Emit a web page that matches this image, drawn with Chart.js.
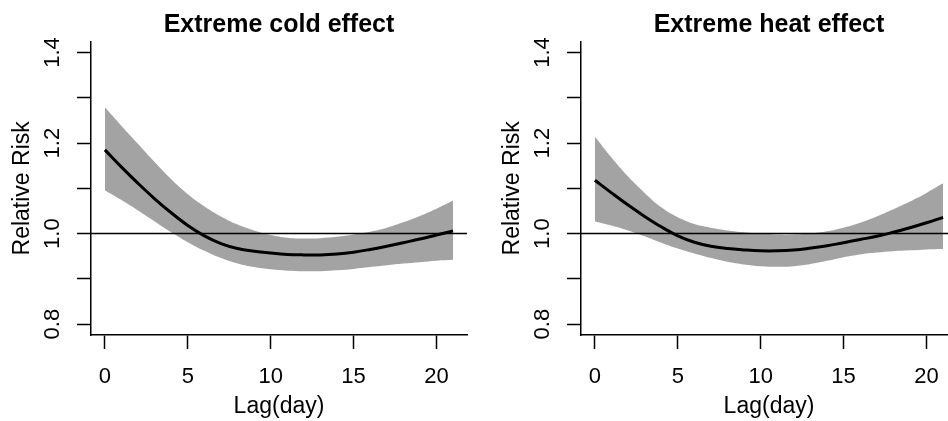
<!DOCTYPE html>
<html>
<head>
<meta charset="utf-8">
<script src="https://cdn.jsdelivr.net/npm/chart.js@4.4.1/dist/chart.umd.min.js"></script>
<style>
  html, body { margin: 0; padding: 0; background: #fff; overflow: hidden; width: 948px; height: 421px; }
  canvas { position: absolute; top: 0; }
  #cold { left: 0; }
  #heat { left: 490px; }
</style>
</head>
<body>
<canvas id="cold" width="474" height="421"></canvas>
<canvas id="heat" width="474" height="421"></canvas>
<script>
// lag days
const lags = [0, 1, 2, 3, 4, 5, 6, 7, 8, 9, 10, 11, 12, 13, 14, 15, 16, 17, 18, 19, 20, 21];

// Extreme cold: relative risk and 95% band
const coldFit   = [1.185, 1.147, 1.111, 1.077, 1.046, 1.018, 0.995, 0.978, 0.967, 0.961, 0.957, 0.954, 0.953, 0.953, 0.955, 0.959, 0.965, 0.972, 0.980, 0.988, 0.997, 1.006];
const coldUpper = [1.279, 1.238, 1.198, 1.158, 1.120, 1.087, 1.060, 1.038, 1.020, 1.007, 0.997, 0.991, 0.989, 0.990, 0.993, 0.998, 1.004, 1.013, 1.025, 1.039, 1.055, 1.073];
const coldLower = [1.096, 1.074, 1.051, 1.027, 1.003, 0.981, 0.962, 0.946, 0.934, 0.926, 0.921, 0.918, 0.917, 0.917, 0.919, 0.922, 0.926, 0.930, 0.934, 0.937, 0.940, 0.942];

// Extreme heat: relative risk and 95% band
const heatFit   = [1.118, 1.090, 1.063, 1.038, 1.015, 0.995, 0.981, 0.972, 0.967, 0.964, 0.962, 0.962, 0.964, 0.968, 0.973, 0.980, 0.987, 0.994, 1.003, 1.013, 1.024, 1.036];
const heatUpper = [1.214, 1.168, 1.126, 1.090, 1.058, 1.036, 1.021, 1.013, 1.007, 1.003, 1.000, 0.998, 0.998, 1.000, 1.005, 1.013, 1.024, 1.038, 1.054, 1.071, 1.090, 1.111];
const heatLower = [1.027, 1.018, 1.007, 0.994, 0.980, 0.967, 0.956, 0.946, 0.938, 0.932, 0.928, 0.927, 0.928, 0.933, 0.940, 0.948, 0.954, 0.958, 0.961, 0.963, 0.965, 0.966];

// axis limits (R style, 4% extension)
const xLimits = [-0.84, 21.84];
const yLimits = [0.776, 1.424];
const refValue = 1.0;

Chart.defaults.font.family = "'Liberation Sans', Arial, Helvetica, sans-serif";
Chart.defaults.color = '#000';

function pts(ys) {
    return lags.map((x, i) => ({ x: x, y: ys[i] }));
}

const axisGrid = {
    display: true,
    drawOnChartArea: false,
    drawTicks: true,
    tickLength: 14,
    tickWidth: 1.5,
    tickColor: '#000',
    color: '#000'
};

function makeChart(id, title, fit, upper, lower) {
    const ctx = document.getElementById(id).getContext('2d');
    return new Chart(ctx, {
        type: 'line',
        data: {
            datasets: [
                { data: pts(fit), borderColor: '#000', borderWidth: 3, pointRadius: 0,
                  tension: 0.4, fill: false, order: 0 },
                { data: [{ x: xLimits[0], y: refValue }, { x: xLimits[1], y: refValue }],
                  borderColor: '#000', borderWidth: 1.5, pointRadius: 0, fill: false, order: 1 },
                { data: pts(upper), borderColor: 'rgba(0,0,0,0)', borderWidth: 0, pointRadius: 0,
                  backgroundColor: '#a3a3a3', tension: 0.4, fill: '+1', order: 2 },
                { data: pts(lower), borderColor: 'rgba(0,0,0,0)', borderWidth: 0, pointRadius: 0,
                  tension: 0.4, fill: false, order: 3 }
            ]
        },
        options: {
            responsive: false,
            animation: false,
            devicePixelRatio: 1,
            layout: { padding: { left: 0, right: 7, top: 0, bottom: 0 } },
            plugins: {
                legend: { display: false },
                tooltip: { enabled: false },
                title: {
                    display: true,
                    text: title,
                    fullSize: false,
                    color: '#000',
                    font: { size: 25, weight: 'bold' },
                    padding: { top: 10, bottom: 1.7 }
                }
            },
            scales: {
                x: {
                    type: 'linear',
                    min: xLimits[0],
                    max: xLimits[1],
                    afterFit: function(scale) { scale.height = 86; },
                    ticks: {
                        stepSize: 5,
                        includeBounds: false,
                        autoSkip: false,
                        minRotation: 0,
                        maxRotation: 0,
                        padding: 15,
                        color: '#000',
                        font: { size: 22 },
                        callback: function(value) { return String(value); }
                    },
                    grid: axisGrid,
                    border: { display: true, color: '#000', width: 1.5 },
                    title: { display: true, text: 'Lag(day)', color: '#000', font: { size: 23 }, padding: { top: 0, bottom: 1 } }
                },
                y: {
                    type: 'linear',
                    min: yLimits[0],
                    max: yLimits[1],
                    afterFit: function(scale) { scale.width = 91; },
                    ticks: {
                        stepSize: 0.1,
                        includeBounds: false,
                        autoSkip: false,
                        minRotation: 90,
                        maxRotation: 90,
                        crossAlign: 'center',
                        padding: 8.5,
                        color: '#000',
                        font: { size: 22 },
                        callback: function(value) {
                            return Math.round(value * 10) % 2 === 0 ? value.toFixed(1) : '';
                        }
                    },
                    grid: axisGrid,
                    border: { display: true, color: '#000', width: 1.5 },
                    title: { display: true, text: 'Relative Risk', color: '#000', font: { size: 23 }, padding: { top: 8.7, bottom: 0 } }
                }
            }
        }
    });
}

makeChart('cold', 'Extreme cold effect', coldFit, coldUpper, coldLower);
makeChart('heat', 'Extreme heat effect', heatFit, heatUpper, heatLower);
</script>
</body>
</html>
